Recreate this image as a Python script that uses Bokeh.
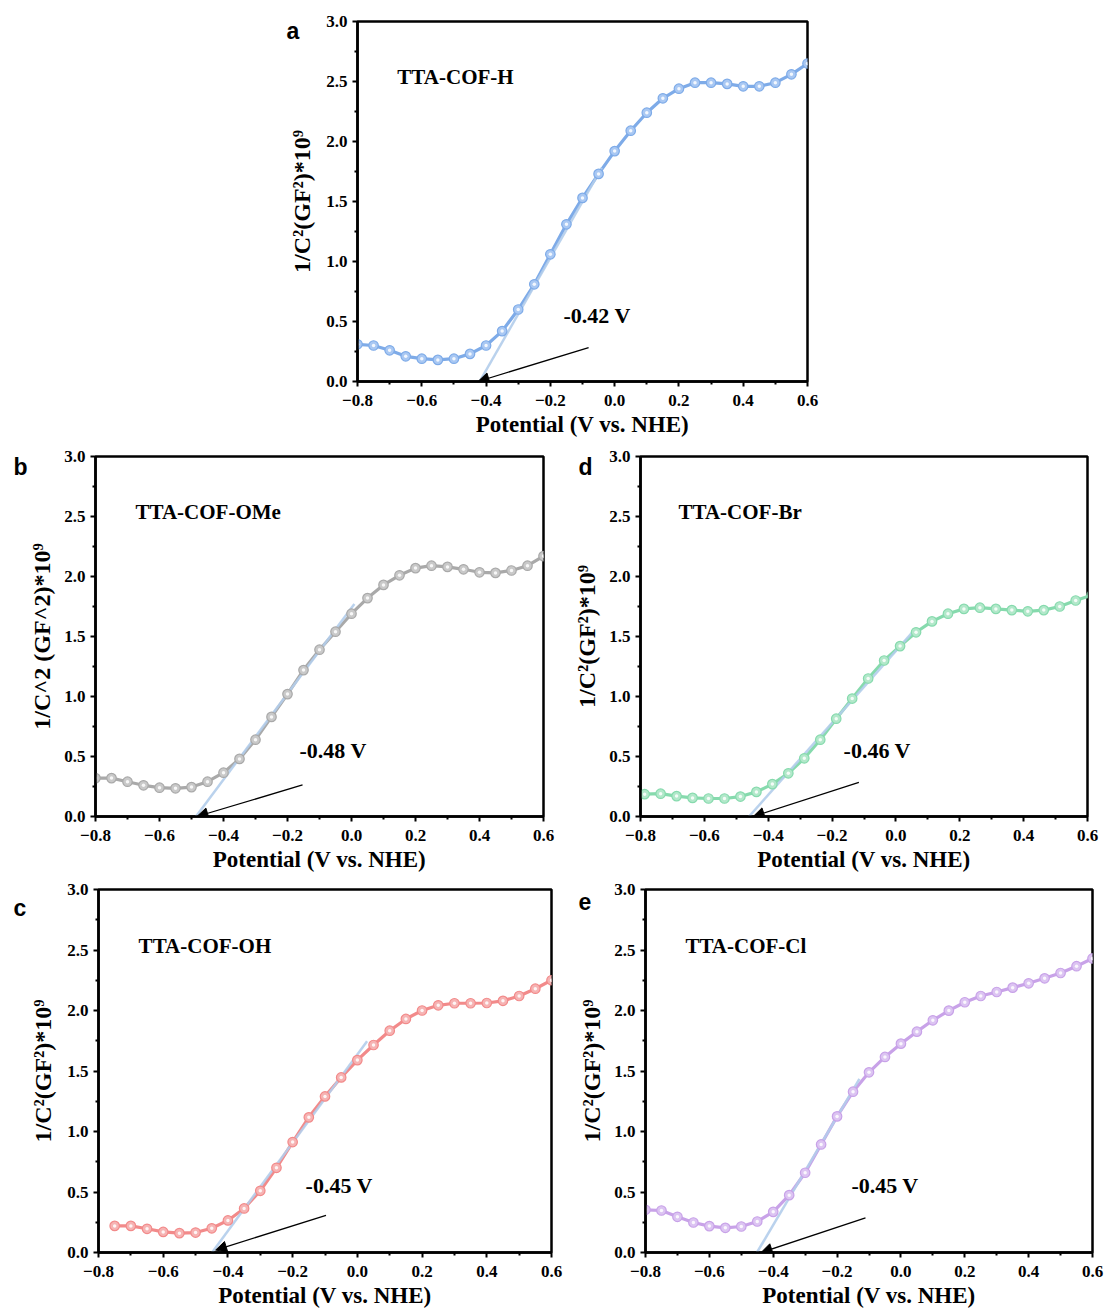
from bokeh.plotting import figure
from bokeh.layouts import column, row
from bokeh.models import (Range1d, FixedTicker, CustomJSTickFormatter, Label,
                          Arrow, NormalHead, Spacer)
from bokeh.embed import file_html
from bokeh.resources import INLINE

# ---------------- data ----------------
x_a = [-0.80, -0.75, -0.70, -0.65, -0.60, -0.55, -0.50, -0.45, -0.40, -0.35,
       -0.30, -0.25, -0.20, -0.15, -0.10, -0.05, 0.00, 0.05, 0.10, 0.15,
       0.20, 0.25, 0.30, 0.35, 0.40, 0.45, 0.50, 0.55, 0.60]
y_a = [0.31, 0.30, 0.26, 0.21, 0.19, 0.18, 0.19, 0.23, 0.30, 0.42,
       0.60, 0.81, 1.06, 1.31, 1.53, 1.73, 1.92, 2.09, 2.24, 2.36,
       2.44, 2.49, 2.49, 2.48, 2.46, 2.46, 2.49, 2.56, 2.65]

x_b = [-0.80, -0.75, -0.70, -0.65, -0.60, -0.55, -0.50, -0.45, -0.40, -0.35,
       -0.30, -0.25, -0.20, -0.15, -0.10, -0.05, 0.00, 0.05, 0.10, 0.15,
       0.20, 0.25, 0.30, 0.35, 0.40, 0.45, 0.50, 0.55, 0.60]
y_b = [0.32, 0.32, 0.29, 0.26, 0.24, 0.235, 0.245, 0.29, 0.365, 0.48,
       0.64, 0.83, 1.02, 1.22, 1.39, 1.54, 1.69, 1.82, 1.93, 2.01,
       2.07, 2.09, 2.08, 2.06, 2.035, 2.03, 2.05, 2.09, 2.17]

x_d = [-0.787, -0.737, -0.687, -0.637, -0.587, -0.537, -0.487, -0.437, -0.387, -0.337,
       -0.287, -0.237, -0.187, -0.137, -0.087, -0.037, 0.013, 0.063, 0.113, 0.163,
       0.213, 0.263, 0.313, 0.363, 0.413, 0.463, 0.513, 0.563, 0.613]
y_d = [0.186, 0.19, 0.17, 0.155, 0.15, 0.15, 0.166, 0.205, 0.27, 0.36,
       0.485, 0.64, 0.815, 0.983, 1.15, 1.30, 1.42, 1.535, 1.626, 1.69,
       1.73, 1.74, 1.73, 1.72, 1.71, 1.72, 1.75, 1.80, 1.845]

x_c = [-0.75, -0.70, -0.65, -0.60, -0.55, -0.50, -0.45, -0.40, -0.35,
       -0.30, -0.25, -0.20, -0.15, -0.10, -0.05, 0.00, 0.05, 0.10, 0.15,
       0.20, 0.25, 0.30, 0.35, 0.40, 0.45, 0.50, 0.55, 0.60]
y_c = [0.22, 0.22, 0.196, 0.17, 0.16, 0.165, 0.20, 0.265, 0.364,
       0.51, 0.70, 0.913, 1.117, 1.29, 1.447, 1.59, 1.715, 1.833, 1.93,
       2.00, 2.043, 2.06, 2.06, 2.062, 2.08, 2.12, 2.18, 2.25]

x_e = [-0.80, -0.75, -0.70, -0.65, -0.60, -0.55, -0.50, -0.45, -0.40, -0.35,
       -0.30, -0.25, -0.20, -0.15, -0.10, -0.05, 0.00, 0.05, 0.10, 0.15,
       0.20, 0.25, 0.30, 0.35, 0.40, 0.45, 0.50, 0.55, 0.60]
y_e = [0.353, 0.347, 0.295, 0.248, 0.218, 0.204, 0.215, 0.256, 0.336, 0.474,
       0.659, 0.893, 1.125, 1.329, 1.489, 1.616, 1.726, 1.825, 1.919, 1.999,
       2.068, 2.12, 2.153, 2.189, 2.225, 2.266, 2.31, 2.366, 2.43]

# linear fits (tangents): x, y of the two ends
fit_a_x, fit_a_y = [-0.42, -0.04], [0.0, 1.78]
fit_b_x, fit_b_y = [-0.486, 0.009], [0.0, 1.77]
fit_d_x, fit_d_y = [-0.46, 0.05], [0.0, 1.53]
fit_c_x, fit_c_y = [-0.449, 0.03], [0.0, 1.745]
fit_e_x, fit_e_y = [-0.451, -0.13], [0.0, 1.434]

names = ["TTA-COF-H", "TTA-COF-OMe", "TTA-COF-Br", "TTA-COF-OH", "TTA-COF-Cl"]
flat_band = ["-0.42 V", "-0.48 V", "-0.46 V", "-0.45 V", "-0.45 V"]
panel_letters = ["a", "b", "d", "c", "e"]
ylabel_std = "1/C\u00b2(GF\u00b2)*10\u2079"
ylabel_ome = "1/C^2 (GF^2)*10\u2079"
x_label = "Potential (V vs. NHE)"
x_ticks = [-0.8, -0.6, -0.4, -0.2, 0.0, 0.2, 0.4, 0.6]
x_minor = [-0.7, -0.5, -0.3, -0.1, 0.1, 0.3, 0.5]
y_ticks = [0.0, 0.5, 1.0, 1.5, 2.0, 2.5, 3.0]
y_minor = [0.25, 0.75, 1.25, 1.75, 2.25, 2.75]

SERIF = "Liberation Serif"
FIT_COLOR = "#b3cdeb"


def make_panel(xs, ys, line_col, fill_col, fit_x, fit_y, arrow_pts, name, fb_text,
               fb_pos, name_pos, letter, letter_pos, ylabel,
               fw, fh, bl, br, bt, bb, x_std, x_astd, y_astd):
    p = figure(frame_width=fw, frame_height=fh,
               x_range=Range1d(-0.8, 0.6), y_range=Range1d(0, 3),
               output_backend="svg", toolbar_location=None,
               min_border_left=bl, min_border_right=br,
               min_border_top=bt, min_border_bottom=bb,
               background_fill_color="white", border_fill_color="white")
    p.grid.visible = False
    p.outline_line_color = "black"
    p.outline_line_width = 2.5
    p.outline_line_alpha = 1.0

    fmt = CustomJSTickFormatter(code="return tick.toFixed(1).replace('-', '\\u2212');")
    p.xaxis.ticker = FixedTicker(ticks=x_ticks, minor_ticks=x_minor)
    p.yaxis.ticker = FixedTicker(ticks=y_ticks, minor_ticks=y_minor)
    p.xaxis.formatter = fmt
    p.yaxis.formatter = fmt
    for ax in (p.xaxis[0], p.yaxis[0]):
        ax.axis_line_width = 2.5
        ax.axis_line_color = "black"
        ax.major_tick_line_width = 2
        ax.minor_tick_line_width = 2
        ax.major_tick_out = 5
        ax.major_tick_in = 0
        ax.minor_tick_out = 3
        ax.minor_tick_in = 0
        ax.major_label_text_font = SERIF
        ax.major_label_text_font_style = "bold"
        ax.major_label_text_font_size = "17px"
        ax.major_label_text_color = "black"
        ax.axis_label_text_font = SERIF
        ax.axis_label_text_font_style = "bold"
        ax.axis_label_text_color = "black"
    p.xaxis.axis_label_text_font_size = "23px"
    p.yaxis.axis_label_text_font_size = "24px"
    p.xaxis.axis_label = x_label
    p.yaxis.axis_label = ylabel
    p.xaxis.major_label_standoff = x_std
    p.xaxis.axis_label_standoff = x_astd
    p.yaxis.major_label_standoff = 5
    p.yaxis.axis_label_standoff = y_astd

    p.line(xs, ys, line_color=line_col, line_width=3.2)
    p.line(fit_x, fit_y, line_color=FIT_COLOR, line_width=2.5, line_alpha=0.9)
    p.scatter(xs, ys, size=9.5, fill_color=fill_col, line_color=line_col, line_width=1.2)
    p.scatter(xs, ys, size=3.5, fill_color="white", line_color=None, fill_alpha=0.85)

    (xs0, ys0), (xe0, ye0) = arrow_pts
    p.add_layout(Arrow(end=NormalHead(size=11, fill_color="black", line_color="black",
                                      line_width=1),
                       x_start=xs0, y_start=ys0, x_end=xe0, y_end=ye0,
                       line_color="black", line_width=1.3))

    p.add_layout(Label(x=fb_pos[0], y=fb_pos[1], text=fb_text, text_font=SERIF,
                       text_font_style="bold", text_font_size="22px",
                       text_baseline="middle", text_align="left", text_color="black"))
    p.add_layout(Label(x=name_pos[0], y=name_pos[1], text=name, text_font=SERIF,
                       text_font_style="bold", text_font_size="21px",
                       text_baseline="middle", text_align="left", text_color="black"))
    # panel letter: placed in a side panel so that it is not clipped to the frame
    p.add_layout(Label(x=letter_pos[0], y=letter_pos[1],
                       text=letter, text_font="Liberation Sans", text_font_style="bold",
                       text_font_size="23px", text_baseline="middle", text_align="left",
                       text_color="black"), "right")
    return p


pa = make_panel(x_a, y_a, "#7eabe8", "#a9c8f3", fit_a_x, fit_a_y,
                ((-0.081, 0.283), (-0.425, 0.0)), names[0], flat_band[0],
                (-0.159, 0.55), (-0.676, 2.54), panel_letters[0], (-1.021, 2.925), ylabel_std,
                450, 360, 100, 20, 21, 60, 8, 3, 8)
pb = make_panel(x_b, y_b, "#a9a9a9", "#c9c9c9", fit_b_x, fit_b_y,
                ((-0.153, 0.263), (-0.483, 0.0)), names[1], flat_band[1],
                (-0.1625, 0.55), (-0.675, 2.54), panel_letters[1], (-1.056, 2.91), ylabel_ome,
                448, 360, 95, 17, 15, 57, 8, 3, 6)
pd_ = make_panel(x_d, y_d, "#86daad", "#b2e8ca", fit_d_x, fit_d_y,
                 ((-0.116, 0.285), (-0.447, 0.0)), names[2], flat_band[2],
                 (-0.164, 0.55), (-0.681, 2.54), panel_letters[2], (-0.994, 2.91), ylabel_std,
                 447, 360, 80, 20, 15, 57, 8, 3, 6)
pc = make_panel(x_c, y_c, "#f28a8a", "#f6b3b3", fit_c_x, fit_c_y,
                ((-0.097, 0.306), (-0.438, 0.02)), names[3], flat_band[3],
                (-0.160, 0.554), (-0.676, 2.537), panel_letters[3], (-1.063, 2.85), ylabel_std,
                453, 363, 98, 19, 15, 58, 8, 3, 8)
pe = make_panel(x_e, y_e, "#c8a2e8", "#dcc4f2", fit_e_x, fit_e_y,
                ((-0.111, 0.287), (-0.438, 0.0)), names[4], flat_band[4],
                (-0.155, 0.554), (-0.675, 2.537), panel_letters[4], (-1.010, 2.90), ylabel_std,
                447, 363, 75, 15, 15, 58, 8, 3, 6)

layout = column(row(Spacer(width=257, height=10), pa), row(pb, pd_), row(pc, pe))

open("out.html", "w").write(file_html(layout, INLINE))
